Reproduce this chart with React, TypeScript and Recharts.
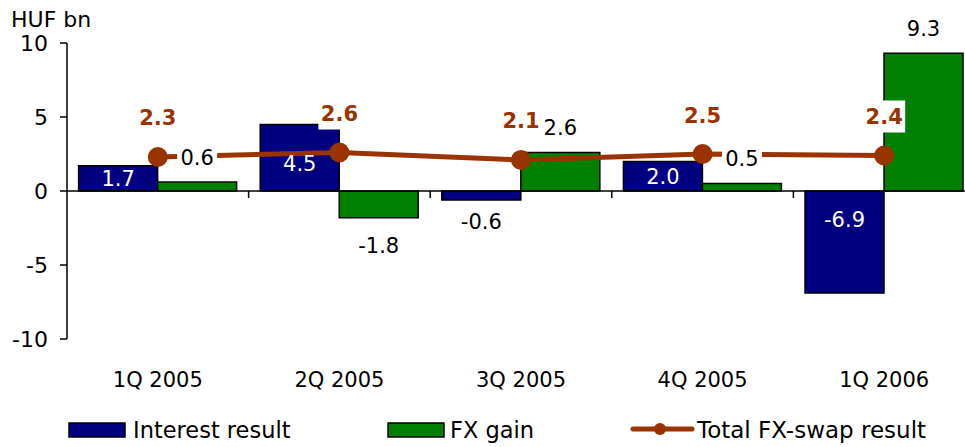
import { ComposedChart, Bar, Line, XAxis, YAxis, ReferenceLine, LabelList } from 'recharts';

const quarters = ['1Q 2005', '2Q 2005', '3Q 2005', '4Q 2005', '1Q 2006'];
const interestResult = [1.7, 4.5, -0.6, 2.0, -6.9];
const fxGain = [0.6, -1.8, 2.6, 0.5, 9.3];
const totalSwap = [2.3, 2.6, 2.1, 2.5, 2.4];
const yTicks = [-10, -5, 0, 5, 10];

const data = quarters.map((q, i) => ({
  quarter: q,
  interest: interestResult[i],
  fx: fxGain[i],
  total: totalSwap[i],
}));

const NAVY = '#000080';
const GREEN = '#008000';
const BROWN = '#993300';
const FONT = '"DejaVu Sans", Verdana, sans-serif';

const barBox = (p: any) => {
  const vb = p.viewBox || {};
  const x = p.x ?? vb.x;
  const y = p.y ?? vb.y;
  const w = p.width ?? vb.width;
  const h = p.height ?? vb.height;
  return { x, w, top: Math.min(y, y + h), bottom: Math.max(y, y + h) };
};

// interest labels sit inside the bar near the base, small bars get them outside
const InterestLabel = (p: any) => {
  const v = Number(p.value);
  const { x, w, top, bottom } = barBox(p);
  const h = bottom - top;
  let cy: number;
  let fill = '#fff';
  if (h < 15) {
    cy = v < 0 ? bottom + 22 : top - 22;
    fill = '#000';
  } else {
    const d = Math.min(h / 2, 28);
    cy = v < 0 ? top + d : bottom - d;
  }
  return (
    <text x={x + w / 2} y={cy + 7.5} textAnchor="middle" fontSize={21} fill={fill}>
      {v.toFixed(1)}
    </text>
  );
};

const FxLabel = (p: any) => {
  const v = Number(p.value);
  const { x, w, top, bottom } = barBox(p);
  const cx = x + w / 2;
  const cy = v < 0 ? bottom + 28 : top - 25;
  const txt = v.toFixed(1);
  const bw = txt.length * 12 + 4;
  return (
    <g>
      <rect x={cx - bw / 2} y={cy - 12} width={bw} height={24} fill="#fff" />
      <text x={cx} y={cy + 7.5} textAnchor="middle" fontSize={21} fill="#000">
        {txt}
      </text>
    </g>
  );
};

const TotalLabel = (p: any) => {
  const cx = p.x;
  const cy = p.y - 39;
  return (
    <g>
      <rect x={cx - 21} y={cy - 16} width={42} height={32} fill="#fff" />
      <text x={cx} y={cy + 7.5} textAnchor="middle" fontSize={21} fontWeight="bold" fill={BROWN}>
        {Number(p.value).toFixed(1)}
      </text>
    </g>
  );
};

// little tick marks between the categories on the zero line
const ZeroTicks = (p: any) => {
  const vb = p.viewBox;
  const n = quarters.length;
  return (
    <g>
      {quarters.map((_, i) => {
        const x = vb.x + (vb.width * (i + 1)) / n;
        return <line key={i} x1={x} x2={x} y1={vb.y} y2={vb.y + 7} stroke="#000" strokeWidth={1.5} />;
      })}
    </g>
  );
};

const UnitLabel = (p: any) => {
  const vb = p.viewBox;
  return (
    <text x={vb.x + 11} y={vb.y - 16} fontSize={22} fill="#000">
      HUF bn
    </text>
  );
};

const ChartLegend = () => (
  <svg width={965} height={47} style={{ position: 'absolute', left: 0, top: 400 }}>
    <rect x={69} y={23} width={56} height={14} fill={NAVY} stroke="#000" strokeWidth={1.5} />
    <text x={133} y={38} fontSize={22.5} fill="#000">Interest result</text>
    <rect x={388} y={23} width={56} height={14} fill={GREEN} stroke="#000" strokeWidth={1.5} />
    <text x={450} y={38} fontSize={22.5} fill="#000">FX gain</text>
    <line x1={633} x2={692} y1={29} y2={29} stroke={BROWN} strokeWidth={5} strokeLinecap="round" />
    <circle cx={660} cy={29} r={6} fill={BROWN} />
    <text x={697} y={38} fontSize={23} fill="#000">Total FX-swap result</text>
  </svg>
);

export default function App() {
  return (
    <div
      style={{
        position: 'absolute',
        left: 0,
        top: 0,
        width: 965,
        height: 447,
        overflow: 'hidden',
        background: '#fff',
        fontFamily: FONT,
      }}
    >
      <ComposedChart
        width={985}
        height={399}
        data={data}
        margin={{ top: 43, right: 10, left: 0, bottom: 0 }}
        barGap={0}
        barCategoryGap="6.4%"
        style={{ fontFamily: FONT }}
      >
        <XAxis
          dataKey="quarter"
          axisLine={false}
          tickLine={false}
          tickSize={0}
          tickMargin={33}
          height={60}
          interval={0}
          tick={{ fontSize: 21, fill: '#000' }}
        />
        <YAxis
          domain={[-10, 10]}
          ticks={yTicks}
          interval={0}
          width={67}
          axisLine={{ stroke: '#000', strokeWidth: 1.5 }}
          tickLine={{ stroke: '#000', strokeWidth: 1.5 }}
          tickSize={7}
          tickMargin={12}
          tick={{ fontSize: 22, fill: '#000' }}
          label={{ content: UnitLabel }}
        />
        <Bar dataKey="interest" fill={NAVY} stroke="#000" strokeWidth={1.5} isAnimationActive={false}>
          <LabelList dataKey="interest" content={InterestLabel} />
        </Bar>
        <Bar dataKey="fx" fill={GREEN} stroke="#000" strokeWidth={1.5} isAnimationActive={false}>
          <LabelList dataKey="fx" content={FxLabel} />
        </Bar>
        <ReferenceLine y={0} stroke="#000" strokeWidth={1.5} label={{ content: ZeroTicks }} />
        <Line
          dataKey="total"
          stroke={BROWN}
          strokeWidth={5}
          dot={{ r: 10, fill: BROWN, stroke: 'none' }}
          isAnimationActive={false}
        >
          <LabelList dataKey="total" content={TotalLabel} />
        </Line>
      </ComposedChart>
      <ChartLegend />
    </div>
  );
}
